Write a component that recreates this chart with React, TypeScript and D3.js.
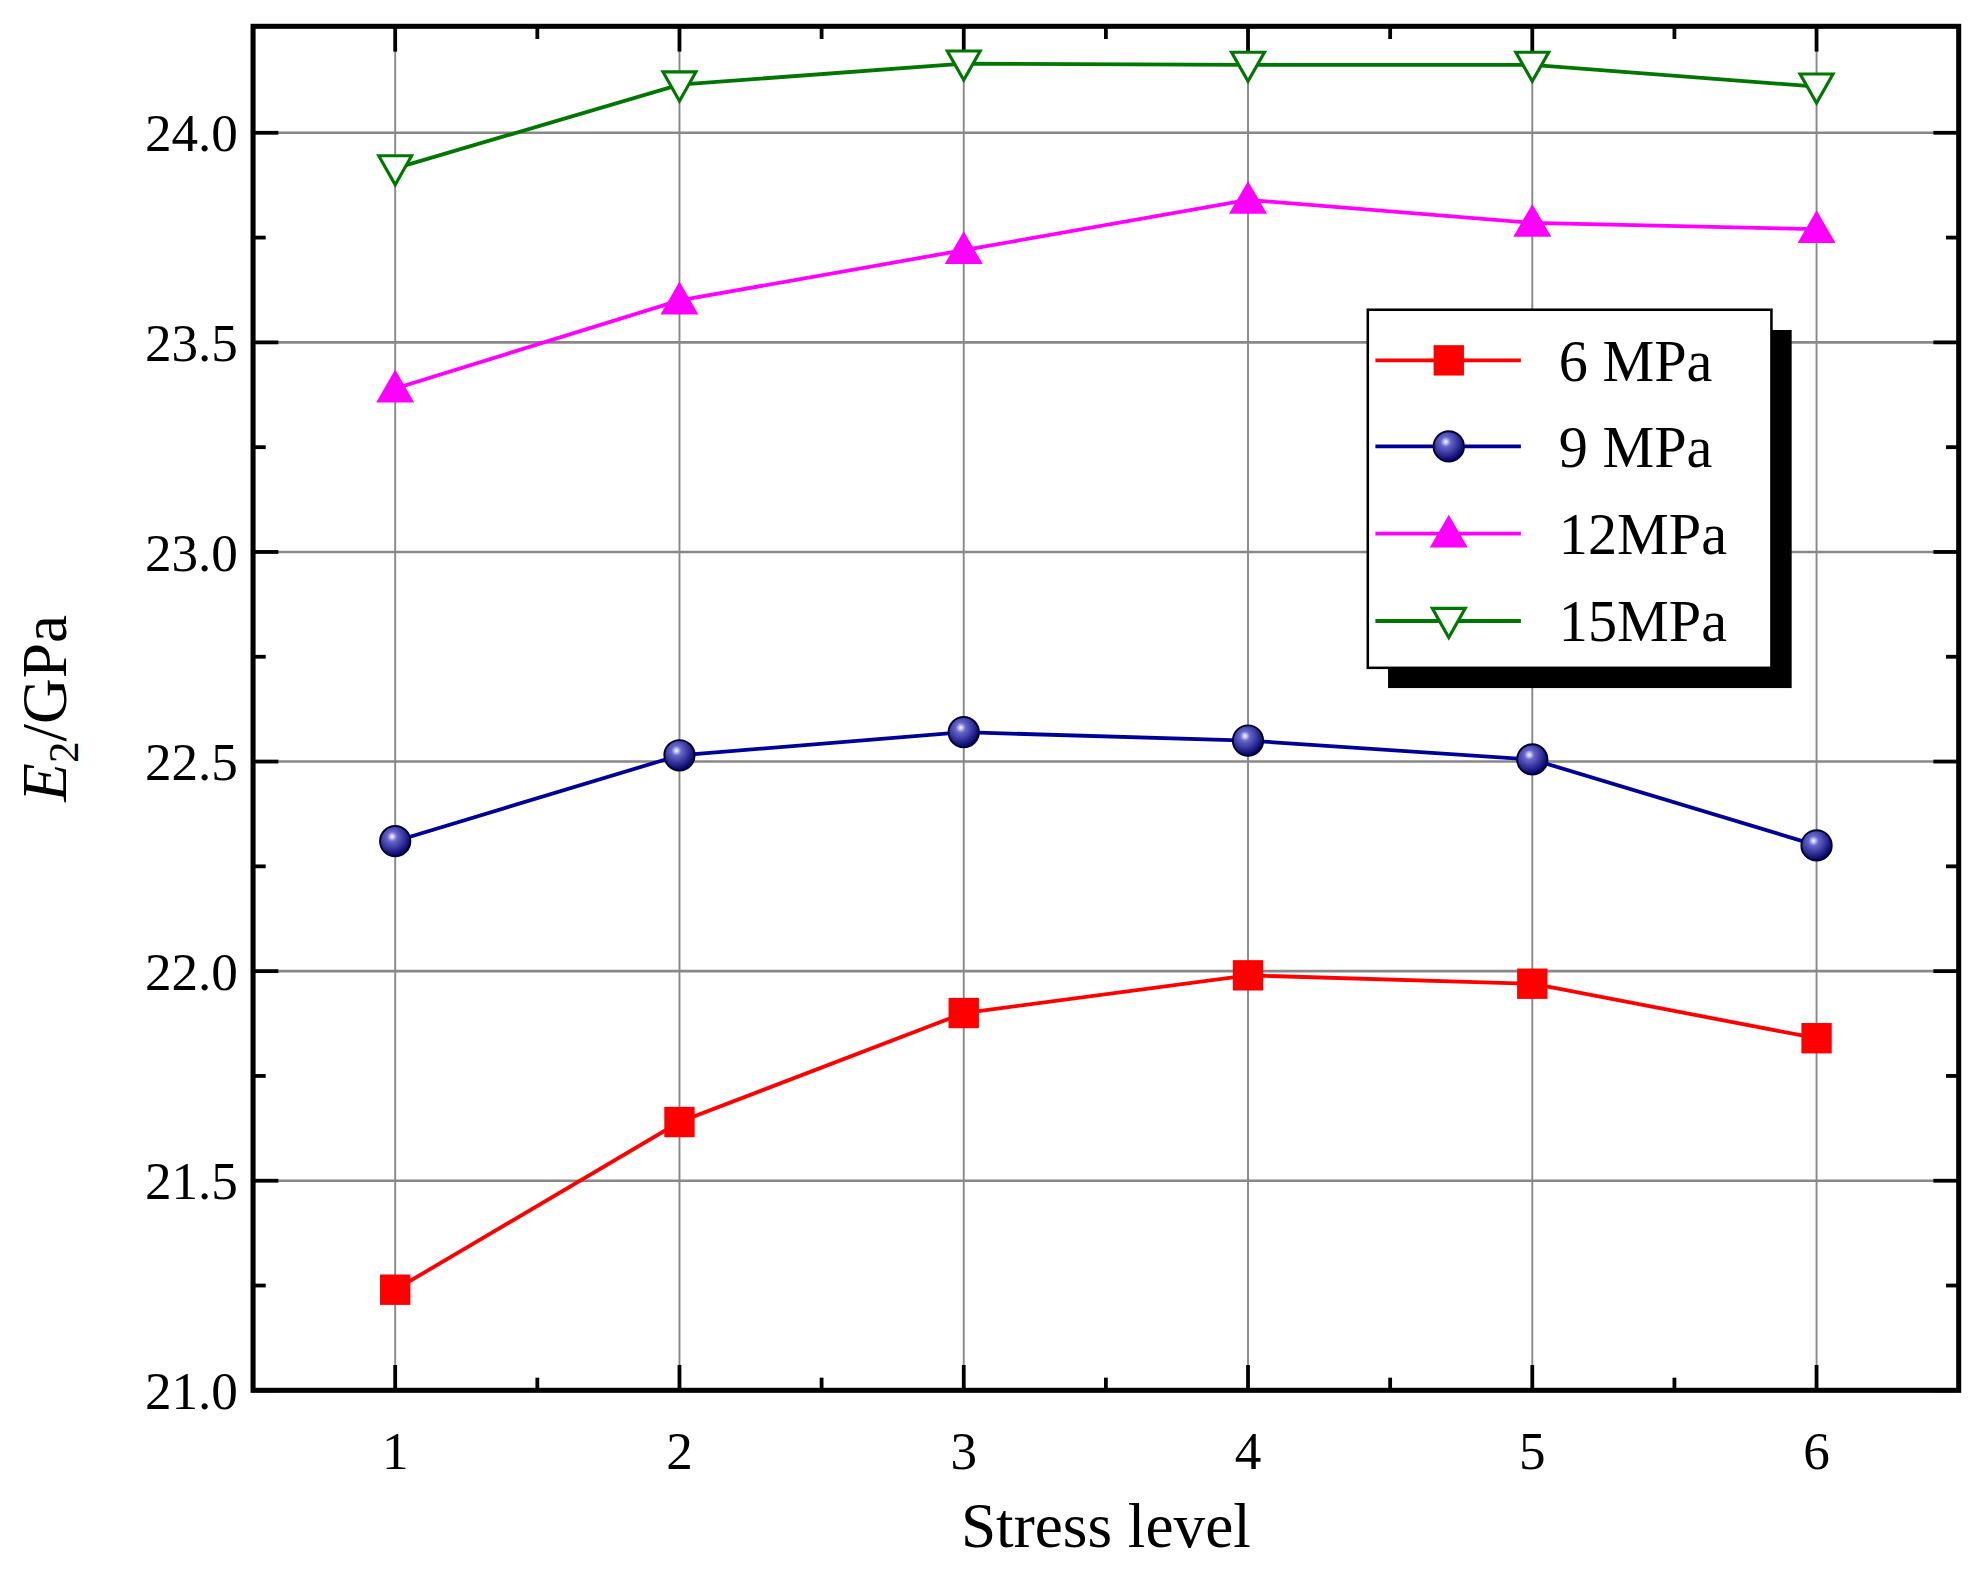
import React from 'react';
import * as d3 from 'd3';

const levels = [1, 2, 3, 4, 5, 6];
const s6 = [21.24, 21.64, 21.9, 21.99, 21.97, 21.84];
const s9 = [22.31, 22.515, 22.57, 22.55, 22.505, 22.3];
const s12 = [23.39, 23.6, 23.72, 23.84, 23.785, 23.77];
const s15 = [23.915, 24.115, 24.165, 24.162, 24.162, 24.11];
const yTicks = [21.0, 21.5, 22.0, 22.5, 23.0, 23.5, 24.0];

const series = [
  { name: '6 MPa', values: s6, color: '#ff0000', marker: 'square' },
  { name: '9 MPa', values: s9, color: '#000099', marker: 'circle' },
  { name: '12MPa', values: s12, color: '#ff00ff', marker: 'up' },
  { name: '15MPa', values: s15, color: '#007700', marker: 'down' },
];

const W = 1568, H = 1240;
const L = 200, R = 1548, T = 20, B = 1098;
const font = '"Liberation Serif", "Times New Roman", serif';

function Marker({ type, x, y, color }: { type: string; x: number; y: number; color: string }) {
  if (type === 'square') return <rect x={x - 12} y={y - 12} width={24} height={24} fill={color} />;
  if (type === 'circle') return <circle cx={x} cy={y} r={12} fill="url(#ball)" stroke="#000033" strokeWidth={1.5} />;
  if (type === 'up')
    return <path d={`M${x},${y - 15}L${x + 15},${y + 11}L${x - 15},${y + 11}Z`} fill={color} />;
  return <path d={`M${x - 13},${y - 10}L${x + 13},${y - 10}L${x},${y + 13}Z`} fill="white" stroke={color} strokeWidth={2.5} />;
}

export default function App() {
  const x = d3.scaleLinear().domain([0.5, 6.5]).range([L, R]);
  const y = d3.scaleLinear().domain([21, 24.254]).range([B, T]);
  const line = d3.line<number>().x((_, i) => x(levels[i])).y((d) => y(d));
  const minorY = d3.range(21.25, 24.25, 0.5);
  const minorX = d3.range(1.5, 6.5, 1);
  const legY = [284, 352, 421, 490];

  return (
    <svg width={1984} height={1571} viewBox={`0 0 ${W} ${H}`} style={{ display: 'block', margin: -8 }}>
      <defs>
        <radialGradient id="ball" cx="0.4" cy="0.35" r="0.65">
          <stop offset="0" stopColor="#ffffff" />
          <stop offset="0.25" stopColor="#6666cc" />
          <stop offset="1" stopColor="#000066" />
        </radialGradient>
      </defs>
      <rect width={W} height={H} fill="white" />
      {yTicks.map((t) => (
        <line key={'gy' + t} x1={L} x2={R} y1={y(t)} y2={y(t)} stroke="#888" strokeWidth={2} />
      ))}
      {levels.map((t) => (
        <line key={'gx' + t} x1={x(t)} x2={x(t)} y1={T} y2={B} stroke="#888" strokeWidth={1.5} />
      ))}
      {/* ticks */}
      {yTicks.map((t) => (
        <g key={'ty' + t}>
          <line x1={L} x2={L + 20} y1={y(t)} y2={y(t)} stroke="#000" strokeWidth={3} />
          <line x1={R} x2={R - 20} y1={y(t)} y2={y(t)} stroke="#000" strokeWidth={3} />
          <text x={L - 12} y={y(t)} dy="0.35em" textAnchor="end" fontFamily={font} fontSize={42}>{t.toFixed(1)}</text>
        </g>
      ))}
      {minorY.map((t) => (
        <g key={'my' + t}>
          <line x1={L} x2={L + 10} y1={y(t)} y2={y(t)} stroke="#000" strokeWidth={3} />
          <line x1={R} x2={R - 10} y1={y(t)} y2={y(t)} stroke="#000" strokeWidth={3} />
        </g>
      ))}
      {levels.map((t) => (
        <g key={'tx' + t}>
          <line x1={x(t)} x2={x(t)} y1={B} y2={B - 20} stroke="#000" strokeWidth={3} />
          <line x1={x(t)} x2={x(t)} y1={T} y2={T + 20} stroke="#000" strokeWidth={3} />
          <text x={x(t)} y={B + 62} textAnchor="middle" fontFamily={font} fontSize={42}>{t}</text>
        </g>
      ))}
      {minorX.map((t) => (
        <g key={'mx' + t}>
          <line x1={x(t)} x2={x(t)} y1={B} y2={B - 10} stroke="#000" strokeWidth={3} />
          <line x1={x(t)} x2={x(t)} y1={T} y2={T + 10} stroke="#000" strokeWidth={3} />
        </g>
      ))}
      {series.map((s) => (
        <g key={s.name}>
          <path d={line(s.values) || ''} fill="none" stroke={s.color} strokeWidth={3} />
          {s.values.map((v, i) => (
            <Marker key={i} type={s.marker} x={x(levels[i])} y={y(v)} color={s.color} />
          ))}
        </g>
      ))}
      <rect x={L} y={T} width={R - L} height={B - T} fill="none" stroke="#000" strokeWidth={4} />
      {/* legend */}
      <rect x={1097} y={260} width={319} height={283} fill="#000" />
      <rect x={1081} y={244} width={319} height={283} fill="white" stroke="#000" strokeWidth={2} />
      {series.map((s, i) => (
        <g key={'lg' + s.name}>
          <line x1={1087} x2={1202} y1={legY[i]} y2={legY[i]} stroke={s.color} strokeWidth={3} />
          <Marker type={s.marker} x={1145} y={legY[i]} color={s.color} />
          <text x={1232} y={legY[i]} dy="0.35em" fontFamily={font} fontSize={46}>{s.name}</text>
        </g>
      ))}
      <text x={874} y={1222} textAnchor="middle" fontFamily={font} fontSize={50}>Stress level</text>
      <text transform={`translate(52,${(T + B) / 2}) rotate(-90)`} textAnchor="middle" fontFamily={font} fontSize={50}>
        <tspan fontStyle="italic">E</tspan>
        <tspan fontSize={34} dy={10}>2</tspan>
        <tspan dy={-10}>/GPa</tspan>
      </text>
    </svg>
  );
}
